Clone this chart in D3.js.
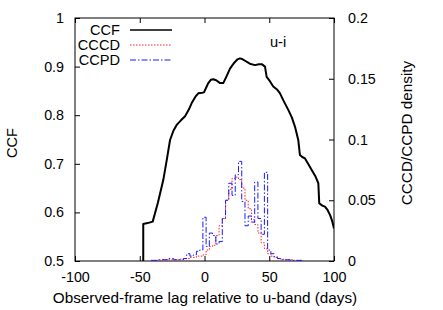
<!DOCTYPE html>
<html>
<head>
<meta charset="utf-8">
<script src="https://cdn.jsdelivr.net/npm/d3@7"></script>
<style>
  body { margin: 0; background: #fff; }
</style>
</head>
<body>
<script>
// CCF curve (lag in days, correlation)
let ccfLag = [-47.3, -47.3, -44, -40, -36, -31.8, -29, -26.6, -24, -21.5, -18, -15, -12, -9.9, -7, -4.8, -2, -0.4,
    1.5, 2.9, 5, 6.8, 9, 12, 14.5, 17, 19.7, 23, 25.5, 27.4, 29.5, 31.3, 35, 39, 42, 44.2, 46.7, 48, 50.5, 53.1,
    56, 58.3, 61, 64.7, 67.5, 69.9, 72.4, 73.7, 75.5, 77.6, 80, 82.8, 85.5, 87.9, 88.6, 91, 93, 95, 96.9, 98.5, 100];
let ccfValue = [0.5, 0.576, 0.578, 0.581, 0.62, 0.667, 0.71, 0.749, 0.768, 0.78, 0.79, 0.798, 0.812, 0.825, 0.838, 0.845, 0.846, 0.847,
    0.858, 0.866, 0.873, 0.874, 0.872, 0.866, 0.866, 0.88, 0.896, 0.908, 0.915, 0.917, 0.915, 0.912, 0.906, 0.903, 0.905, 0.905, 0.9, 0.879, 0.87, 0.859,
    0.853, 0.845, 0.83, 0.811, 0.795, 0.776, 0.749, 0.718, 0.714, 0.711, 0.7, 0.687, 0.675, 0.66, 0.619, 0.614, 0.612, 0.605, 0.595, 0.583, 0.567];

// histogram bin centres (days), bin width 2.5
let binWidth = 2.5;
let binCentres = [-40, -37.5, -35, -32.5, -30, -27.5, -25, -22.5, -20, -17.5, -15, -12.5, -10, -7.5, -5, -2.5,
    0, 2.5, 5, 7.5, 10, 12.5, 15, 17.5, 20, 22.5, 25, 27.5, 30, 32.5, 35, 37.5, 40, 42.5, 45, 47.5,
    50, 52.5, 55, 57.5, 60, 62.5, 65, 67.5, 70, 72.5, 75];
let cccd = [0.0005, 0.0005, 0.0005, 0.001, 0.001, 0.001, 0.001, 0.001, 0.001, 0.0015, 0.002, 0.002, 0.003, 0.003, 0.004, 0.004,
    0.005, 0.009, 0.012, 0.013, 0.021, 0.029, 0.035, 0.05, 0.059, 0.068, 0.069, 0.067, 0.06, 0.05, 0.043, 0.034, 0.03, 0.023, 0.015, 0.01,
    0.006, 0.004, 0.003, 0.002, 0.0015, 0.001, 0.001, 0.001, 0.0005, 0.0005, 0.0005];
let ccpd = [0.0005, 0.0005, 0.001, 0.001, 0.001, 0.002, 0.002, 0.001, 0.001, 0.001, 0.002, 0.006, 0.004, 0.005, 0.008, 0.009,
    0.036, 0.012, 0.023, 0.021, 0.014, 0.016, 0.035, 0.05, 0.064, 0.054, 0.071, 0.082, 0.049, 0.029, 0.037, 0.032, 0.065, 0.035, 0.022, 0.073,
    0.009, 0.006, 0.0035, 0.002, 0.001, 0.001, 0.001, 0.0005, 0.0005, 0.0005, 0.0005];

let xTicks = [-100, -50, 0, 50, 100];
let yTicks = [0.5, 0.6, 0.7, 0.8, 0.9, 1];
let y2Ticks = [0, 0.05, 0.1, 0.15, 0.2];

let width = 443, height = 310;
let margin = { top: 18, bottom: 49, left: 75, right: 109 };
let font = '"Liberation Sans", Arial, sans-serif';

let svg = d3.select('body')
    .append('svg')
    .attr('width', width)
    .attr('height', height)
    .attr('font-family', font)
    .attr('font-size', 14);

let xScale = d3.scaleLinear().domain([-100, 100]).range([margin.left, width - margin.right]);
let yScale = d3.scaleLinear().domain([0.5, 1]).range([height - margin.bottom, margin.top]);
let y2Scale = d3.scaleLinear().domain([0, 0.2]).range([height - margin.bottom, margin.top]);

svg.append('clipPath').attr('id', 'plot')
    .append('rect')
    .attr('x', margin.left).attr('y', margin.top)
    .attr('width', width - margin.left - margin.right)
    .attr('height', height - margin.top - margin.bottom);

// Axes (gnuplot style: ticks inside)
let fmt = d => String(d);
function styleAxis(g) {
    g.attr('font-family', font).attr('font-size', 14.3);
    g.select('.domain').remove();
    g.selectAll('.tick line').attr('stroke', '#000');
    g.selectAll('text').attr('fill', '#000');
}

svg.append('g')
    .attr('transform', `translate(0,${height - margin.bottom})`)
    .call(d3.axisBottom(xScale).tickValues(xTicks).tickFormat(fmt).tickSize(-5).tickPadding(11))
    .call(styleAxis);

svg.append('g')
    .attr('transform', `translate(0,${margin.top})`)
    .call(d3.axisTop(xScale).tickValues(xTicks).tickFormat('').tickSize(-5))
    .call(styleAxis);

svg.append('g')
    .attr('transform', `translate(${margin.left},0)`)
    .call(d3.axisLeft(yScale).tickValues(yTicks).tickFormat(fmt).tickSize(-5).tickPadding(11))
    .call(styleAxis);

svg.append('g')
    .attr('transform', `translate(${width - margin.right},0)`)
    .call(d3.axisRight(y2Scale).tickValues(y2Ticks).tickFormat(fmt).tickSize(-5).tickPadding(14))
    .call(styleAxis);

// Frame
svg.append('rect')
    .attr('x', margin.left).attr('y', margin.top)
    .attr('width', width - margin.left - margin.right)
    .attr('height', height - margin.top - margin.bottom)
    .attr('fill', 'none').attr('stroke', '#000').attr('stroke-width', 1);

// Step histograms
function stepPoints(values) {
    let pts = binCentres.map((c, i) => [c - binWidth / 2, values[i]]);
    pts.push([binCentres[binCentres.length - 1] + binWidth / 2, values[values.length - 1]]);
    return pts;
}
let stepLine = d3.line()
    .x(d => xScale(d[0]))
    .y(d => y2Scale(d[1]))
    .curve(d3.curveStepAfter);

let plot = svg.append('g').attr('clip-path', 'url(#plot)');

plot.append('path')
    .attr('d', stepLine(stepPoints(cccd)))
    .attr('fill', 'none')
    .attr('stroke', '#ff2020')
    .attr('stroke-width', 1)
    .attr('stroke-dasharray', '1.5,1.5');

plot.append('path')
    .attr('d', stepLine(stepPoints(ccpd)))
    .attr('fill', 'none')
    .attr('stroke', '#1a1aff')
    .attr('stroke-width', 1)
    .attr('stroke-dasharray', '6,2,1.5,2');

// CCF curve
let ccfLine = d3.line()
    .x((d, i) => xScale(ccfLag[i]))
    .y(d => yScale(d));

plot.append('path')
    .attr('d', ccfLine(ccfValue))
    .attr('fill', 'none')
    .attr('stroke', '#000')
    .attr('stroke-width', 2)
    .attr('stroke-linejoin', 'round');

// Legend
let legend = [
    { name: 'CCF', color: '#000', dash: null, w: 1.5 },
    { name: 'CCCD', color: '#ff2020', dash: '1.5,1.5', w: 1 },
    { name: 'CCPD', color: '#1a1aff', dash: '6,2,1.5,2', w: 1 }
];
legend.forEach((d, i) => {
    let yy = 30 + i * 15;
    svg.append('text')
        .attr('x', 120).attr('y', yy + 5)
        .attr('text-anchor', 'end')
        .attr('font-size', 14.6)
        .text(d.name);
    svg.append('line')
        .attr('x1', 130).attr('x2', 172)
        .attr('y1', yy).attr('y2', yy)
        .attr('stroke', d.color)
        .attr('stroke-width', d.w)
        .attr('stroke-dasharray', d.dash);
});

svg.append('text')
    .attr('x', 270).attr('y', 47)
    .attr('font-size', 14.6)
    .text('u-i');

// Axis titles
svg.append('text')
    .attr('transform', 'translate(17,143) rotate(-90)')
    .attr('text-anchor', 'middle')
    .attr('font-size', 14.6)
    .text('CCF');

svg.append('text')
    .attr('transform', 'translate(412,133) rotate(-90)')
    .attr('text-anchor', 'middle')
    .attr('font-size', 15.3)
    .text('CCCD/CCPD density');

svg.append('text')
    .attr('x', 205).attr('y', 303)
    .attr('text-anchor', 'middle')
    .attr('font-size', 15.3)
    .text('Observed-frame lag relative to u-band (days)');
</script>
</body>
</html>
